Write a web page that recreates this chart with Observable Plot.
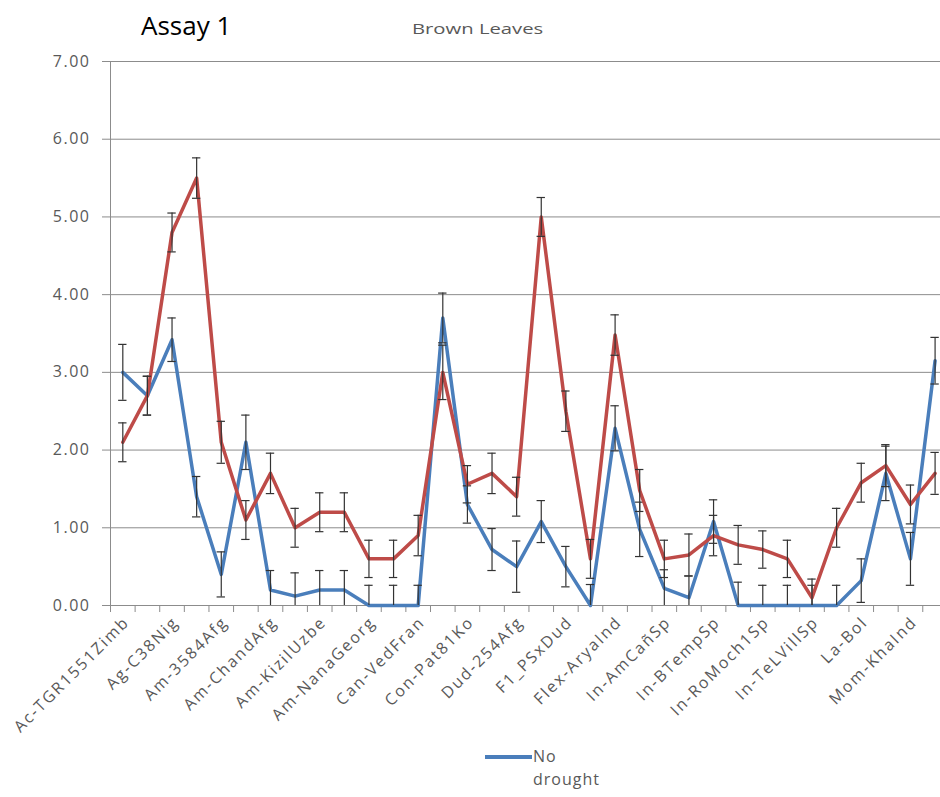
<!DOCTYPE html>
<html><head><meta charset="utf-8">
<script src="https://cdn.jsdelivr.net/npm/d3@7"></script>
<script src="https://cdn.jsdelivr.net/npm/@observablehq/plot@0.6"></script>
<style>
body{margin:0;background:#fff;}
#wrap{position:relative;width:940px;height:797px;overflow:hidden;font-family:"Open Sans",sans-serif;}
#chart{position:absolute;left:0;top:0;}
.assay{position:absolute;left:141px;top:12px;font-size:26px;line-height:1;color:#000;white-space:nowrap;}
.ttl{position:absolute;left:412px;top:21px;font-size:15px;line-height:1;color:#595959;white-space:nowrap;transform:scaleX(1.35);transform-origin:left center;}
.lgline{position:absolute;left:485px;top:755px;width:47px;height:4px;}
.lgtext{position:absolute;left:533px;top:745px;font-size:16px;line-height:23px;color:#595959;letter-spacing:1px;}
.c g[aria-label="x-axis tick label"] text{letter-spacing:2px;}
.c g[aria-label="y-axis tick label"] text{letter-spacing:1.5px;}
</style></head>
<body><div id="wrap"><div id="chart"></div>
<div class="assay">Assay 1</div>
<div class="ttl">Brown Leaves</div>
<div class="lgline" id="lgline"></div>
<div class="lgtext" id="lgtext"></div>
</div>
<script>
// Category tick labels (every other category is labelled in the original)
const tickLabels = ["Ac-TGR1551Zimb","Ag-C38Nig","Am-3584Afg","Am-ChandAfg","Am-KizilUzbe","Am-NanaGeorg","Can-VedFran","Con-Pat81Ko","Dud-254Afg","F1_PSxDud","Flex-AryaInd","In-AmCañSp","In-BTempSp","In-RoMoch1Sp","In-TeLVillSp","La-Bol","Mom-KhaInd"];
const nCategories = 34;
const seriesNames = ["No drought", "Drought"];
const seriesColors = ["#4A7EBB", "#BE4B48"];
const noDrought    = [3.00,2.70,3.42,1.40,0.40,2.10,0.20,0.12,0.20,0.20,0.00,0.00,0.00,3.70,1.30,0.72,0.50,1.08,0.50,0.00,2.28,0.98,0.22,0.10,1.08,0.00,0.00,0.00,0.00,0.00,0.32,1.70,0.60,3.15];
const noDroughtErr = [0.36,0.25,0.28,0.26,0.29,0.35,0.25,0.30,0.25,0.25,0.26,0.26,0.26,0.32,0.24,0.27,0.33,0.27,0.26,0.27,0.29,0.35,0.24,0.28,0.28,0.30,0.26,0.26,0.26,0.26,0.28,0.35,0.34,0.30];
const drought      = [2.10,2.70,4.80,5.50,2.10,1.10,1.70,1.00,1.20,1.20,0.60,0.60,0.90,3.00,1.56,1.70,1.40,5.00,2.50,0.60,3.48,1.48,0.60,0.65,0.90,0.78,0.72,0.60,0.10,1.00,1.58,1.80,1.30,1.70];
const droughtErr   = [0.25,0.25,0.25,0.26,0.27,0.25,0.26,0.25,0.25,0.25,0.24,0.24,0.26,0.35,0.24,0.26,0.25,0.25,0.26,0.25,0.26,0.27,0.24,0.27,0.26,0.25,0.24,0.24,0.24,0.25,0.25,0.27,0.25,0.27];
const yTicks = [0,1,2,3,4,5,6,7];

const idx = d3.range(nCategories);
const mk = (vals, errs, s) => idx.map(i => ({i, v: vals[i], lo: vals[i] - errs[i], hi: vals[i] + errs[i], s}));
const blue = mk(noDrought, noDroughtErr, seriesNames[0]);
const red = mk(drought, droughtErr, seriesNames[1]);
const cap = 0.17;
const boundaries = d3.range(nCategories).map(i => i - 0.5);
const labelIdx = tickLabels.map((_, k) => 2 * k);

function errMarks(data) {
  return [
    Plot.ruleX(data, {x: "i", y1: "lo", y2: "hi", stroke: "#333", strokeWidth: 1.2, clip: true}),
    Plot.ruleY(data, {y: "hi", x1: d => d.i - cap, x2: d => d.i + cap, stroke: "#333", strokeWidth: 1.2, clip: true}),
    Plot.ruleY(data, {y: "lo", x1: d => d.i - cap, x2: d => d.i + cap, stroke: "#333", strokeWidth: 1.2, clip: true})
  ];
}

const chart = Plot.plot({
  className: "c",
  width: 940, height: 797,
  marginLeft: 110, marginRight: 0, marginTop: 61, marginBottom: 192,
  x: {type: "linear", domain: [-0.5, 33.22], axis: null, label: null},
  y: {domain: [0, 7], axis: null, label: null},
  style: {fontFamily: "Open Sans", fontSize: "16px", color: "#595959", background: "#fff", overflow: "visible"},
  marks: [
    Plot.gridY(yTicks, {stroke: "#8c8c8c", strokeOpacity: 1, strokeWidth: 1}),
    Plot.ruleX([-0.5], {stroke: "#8c8c8c"}),
    Plot.axisY({ticks: yTicks, tickFormat: d => d.toFixed(2), tickSize: 8, tickPadding: 12, stroke: "#8c8c8c", fill: "#595959", fontSize: 16, label: null}),
    Plot.axisX({ticks: boundaries, tickFormat: () => "", tickSize: 7, stroke: "#8c8c8c", label: null}),
    Plot.axisX({ticks: labelIdx, tickFormat: i => tickLabels[i / 2], tickSize: 0, tickPadding: 14, tickRotate: -45, dx: 4, fill: "#595959", fontSize: 16, label: null}),
    Plot.line(blue, {x: "i", y: "v", stroke: seriesColors[0], strokeWidth: 3.5}),
    ...errMarks(blue),
    Plot.line(red, {x: "i", y: "v", stroke: seriesColors[1], strokeWidth: 3.5}),
    ...errMarks(red)
  ]
});
document.getElementById("chart").appendChild(chart);
document.getElementById("lgline").style.background = seriesColors[0];
document.getElementById("lgtext").innerHTML = "No<br>drought";
</script>
</body></html>
